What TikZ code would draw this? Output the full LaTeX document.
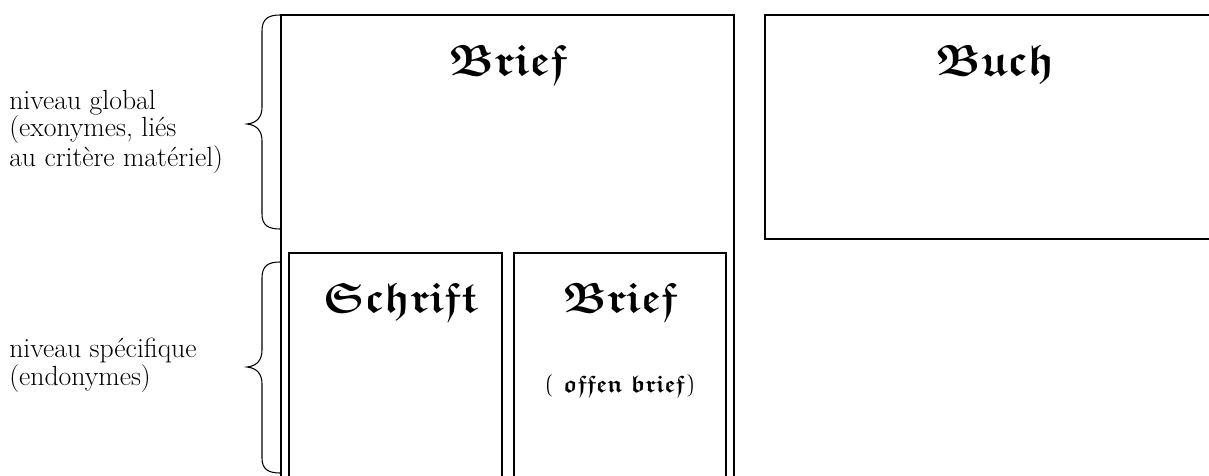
\documentclass[tikz,border=0pt]{standalone}
\usepackage{fontspec}
\DeclareFontFamily{U}{euf}{}
\DeclareFontShape{U}{euf}{m}{n}{<->eufm10}{}
\DeclareFontShape{U}{euf}{b}{n}{<->eufb10}{}
\newcommand{\frakb}{\usefont{U}{euf}{b}{n}}
\tikzset{
  box/.style={draw=black, line width=1.1pt},
  brace/.style={draw=black, line width=0.8pt},
  lab/.style={align=left, anchor=base west, inner sep=0pt, font=\fontsize{20.8}{18.75}\selectfont},
  titlebig/.style={anchor=base, inner sep=0pt, font=\fontsize{33}{40}\selectfont\frakb},
  titlesmall/.style={anchor=base, inner sep=0pt, font=\fontsize{32}{40}\selectfont\frakb},
  sub/.style={anchor=base, inner sep=0pt, font=\fontsize{18}{24}\selectfont\frakb},
}
\begin{document}
\begin{tikzpicture}[x=0.75pt, y=-0.75pt]
\clip (0,0) rectangle (1209,475);
\fill[white] (0,0) rectangle (1209,475);
% boxes
\draw[box] (281,15) rectangle (734,520);
\draw[box] (765,15) rectangle (1260,239);
\draw[box] (289,253) rectangle (502,520);
\draw[box] (514,253) rectangle (726,520);
% titles
\node[titlebig] (brief) at (508,75) {Brief};
\node[titlebig] (buch) at (995,75) {Buch};
\node[titlesmall] (schrift) at (400,312) {Schrift};
\node[titlesmall] (brief2) at (620,312) {Brief};
\node[sub] (offen) at (620,392) {( offen brief)};
% braces
\draw[brace] (280,15) .. controls (268,15) and (262,19) .. (262,31)
  -- (262,107) .. controls (262,117) and (257,123) .. (247,124)
  .. controls (257,125) and (262,131) .. (262,141)
  -- (262,214) .. controls (262,225) and (268,229) .. (280,229);
\draw[brace] (280,262) .. controls (268,262) and (262,266) .. (262,278)
  -- (262,350) .. controls (262,360) and (257,366) .. (247,367)
  .. controls (257,368) and (262,374) .. (262,384)
  -- (262,458) .. controls (262,469) and (268,473) .. (280,473);
% labels
\node[lab] (glob) at (9,166) {niveau global\\(exonymes, liés\\au critère matériel)};
\node[lab] (spec) at (9,385) {niveau spécifique\\(endonymes)};
\end{tikzpicture}
\end{document}
